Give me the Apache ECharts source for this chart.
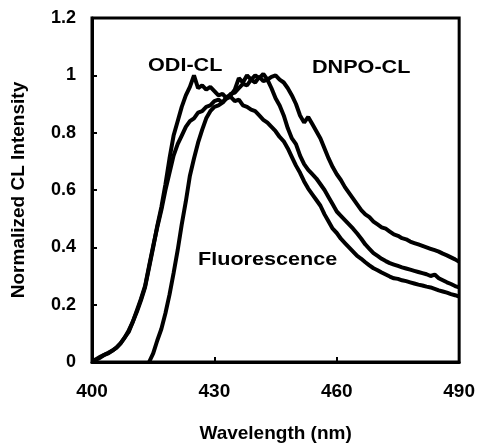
<!DOCTYPE html>
<html>
<head>
<meta charset="utf-8">
<script src="https://cdn.jsdelivr.net/npm/echarts@6/dist/echarts.min.js"></script>
<style>html,body{margin:0;padding:0;background:#fff}#c{width:478px;height:448px}</style>
</head>
<body>
<div id="c"></div>
<script>
// wavelengths (nm)
var wlFull = [];
for (var w = 400; w <= 490; w++) wlFull.push(w);
var wlFluor = [];
for (var w2 = 414; w2 <= 490; w2++) wlFluor.push(w2);

var odiCL = [0.00,0.008,0.015,0.025,0.032,0.04,0.05,0.065,0.085,0.105,
  0.14,0.175,0.215,0.26,0.33,0.40,0.475,0.54,0.62,0.71,
  0.79,0.84,0.89,0.93,0.96,1.0,0.955,0.965,0.95,0.96,
  0.945,0.93,0.935,0.92,0.925,0.91,0.915,0.895,0.89,0.88,
  0.875,0.86,0.845,0.835,0.82,0.805,0.785,0.77,0.745,0.715,
  0.685,0.66,0.63,0.605,0.585,0.565,0.545,0.515,0.49,0.465,
  0.45,0.43,0.415,0.40,0.385,0.37,0.36,0.348,0.337,0.327,
  0.32,0.312,0.305,0.298,0.292,0.29,0.285,0.282,0.278,0.274,
  0.27,0.267,0.263,0.26,0.255,0.25,0.246,0.242,0.237,0.233,0.228];

var dnpoCL = [0.00,0.01,0.018,0.025,0.03,0.04,0.05,0.065,0.085,0.11,
  0.14,0.18,0.22,0.265,0.335,0.405,0.47,0.53,0.6,0.66,
  0.72,0.76,0.79,0.82,0.84,0.85,0.87,0.875,0.89,0.895,
  0.91,0.915,0.905,0.925,0.93,0.95,0.99,0.975,1.0,0.985,
  1.0,0.99,1.005,0.985,0.995,1.0,0.985,0.975,0.955,0.93,
  0.9,0.86,0.835,0.855,0.83,0.805,0.78,0.745,0.71,0.68,
  0.655,0.635,0.61,0.59,0.57,0.55,0.53,0.515,0.505,0.49,
  0.48,0.47,0.465,0.455,0.445,0.44,0.432,0.428,0.42,0.415,
  0.41,0.405,0.4,0.395,0.39,0.385,0.378,0.372,0.365,0.358,0.35];

var fluor = [0.0,0.03,0.075,0.115,0.17,0.235,0.31,0.39,0.48,0.56,
  0.65,0.71,0.765,0.81,0.85,0.875,0.89,0.895,0.905,0.92,
  0.935,0.94,0.955,0.97,0.965,0.985,0.975,0.995,0.98,0.985,
  0.955,0.92,0.895,0.86,0.815,0.78,0.76,0.72,0.69,0.67,
  0.655,0.64,0.62,0.6,0.575,0.55,0.525,0.51,0.495,0.48,
  0.465,0.448,0.43,0.41,0.395,0.38,0.37,0.36,0.352,0.345,
  0.34,0.335,0.33,0.326,0.322,0.318,0.314,0.31,0.306,0.3,
  0.305,0.292,0.285,0.278,0.272,0.265,0.26,0.255];

var xTicks = [400, 430, 460, 490];
var yTicks = [0, 0.2, 0.4, 0.6, 0.8, 1, 1.2];

function pairs(xs, ys) {
  var out = [];
  for (var i = 0; i < xs.length && i < ys.length; i++) out.push([xs[i], ys[i]]);
  return out;
}

var FONT = 'Liberation Sans, Arial, sans-serif';
var chart = echarts.init(document.getElementById('c'), null, {renderer: 'canvas'});

function lineSeries(name, data) {
  return {
    name: name, type: 'line', data: data, showSymbol: false, symbol: 'none',
    smooth: false, lineStyle: {color: '#000', width: 4}, z: 3, animation: false
  };
}

chart.setOption({
  animation: false,
  backgroundColor: '#fff',
  grid: {left: 92, right: 16, top: 18, bottom: 84, show: true, borderColor: '#000', borderWidth: 3, backgroundColor: 'transparent'},
  xAxis: {
    type: 'value', min: 400, max: 490, interval: 30,
    name: 'Wavelength (nm)', nameLocation: 'middle', nameGap: 62,
    nameTextStyle: {fontFamily: FONT, fontWeight: 'bold', fontSize: 19, color: '#000'},
    axisLine: {show: true, lineStyle: {color: '#000', width: 3}},
    axisTick: {show: true, inside: true, length: 5, lineStyle: {color: '#000', width: 2}},
    axisLabel: {margin: 20, fontFamily: FONT, fontWeight: 'bold', fontSize: 19, color: '#000',
      formatter: function (v) { return xTicks.indexOf(v) >= 0 ? String(v) : ''; }},
    splitLine: {show: false}
  },
  yAxis: {
    type: 'value', min: 0, max: 1.2, interval: 0.2,
    name: 'Normalized CL Intensity', nameLocation: 'middle', nameGap: 64,
    nameTextStyle: {fontFamily: FONT, fontWeight: 'bold', fontSize: 19, color: '#000'},
    axisLine: {show: true, lineStyle: {color: '#000', width: 3}},
    axisTick: {show: true, inside: true, length: 5, lineStyle: {color: '#000', width: 2}},
    axisLabel: {margin: 16, fontFamily: FONT, fontWeight: 'bold', fontSize: 18, color: '#000',
      formatter: function (v) { var r = Math.round(v * 10) / 10; return String(r); }},
    splitLine: {show: false}
  },
  series: [
    lineSeries('ODI-CL', pairs(wlFull, odiCL)),
    lineSeries('DNPO-CL', pairs(wlFull, dnpoCL)),
    lineSeries('Fluorescence', pairs(wlFluor, fluor))
  ],
  graphic: [
    {type: 'text', left: 148, top: 57, style: {text: 'ODI-CL', font: 'bold 18px ' + FONT, fill: '#000'}, scaleX: 1.2},
    {type: 'text', left: 312, top: 59, style: {text: 'DNPO-CL', font: 'bold 18px ' + FONT, fill: '#000'}, scaleX: 1.2},
    {type: 'text', left: 198, top: 251, style: {text: 'Fluorescence', font: 'bold 18px ' + FONT, fill: '#000'}, scaleX: 1.2}
  ]
});
</script>
</body>
</html>
